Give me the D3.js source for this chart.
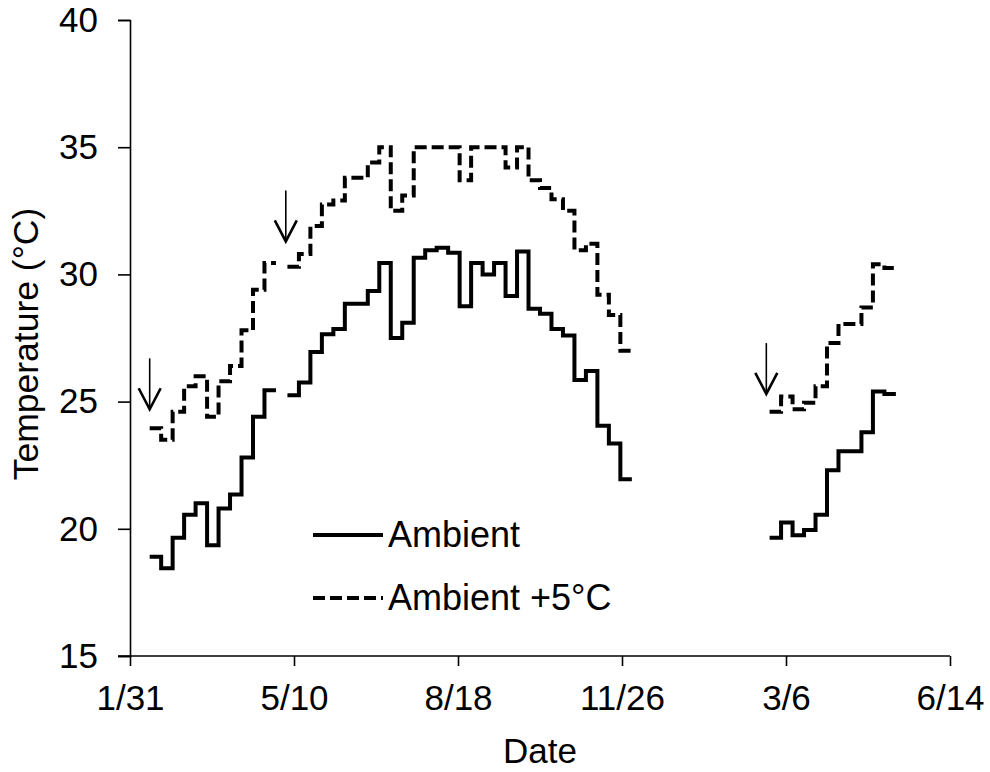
<!DOCTYPE html>
<html>
<head>
<meta charset="utf-8">
<script src="https://cdn.jsdelivr.net/npm/d3@7"></script>
<style>
  html, body { margin: 0; padding: 0; background: #fff; }
  svg { display: block; }
  text { font-family: "Liberation Sans", Arial, sans-serif; fill: #000; }
</style>
</head>
<body>
<svg id="chart" width="990" height="772"></svg>
<script>
// Weekly mean temperatures; each value holds for seven days from its start date.
const stepDays = 7;

const weekStarts = [
  // first season
  "2012-02-12", "2012-02-19", "2012-02-26", "2012-03-04", "2012-03-11", "2012-03-18",
  "2012-03-25", "2012-04-01", "2012-04-08", "2012-04-15", "2012-04-22", "2012-04-29",
  "2012-05-06", "2012-05-13", "2012-05-20", "2012-05-27", "2012-06-03", "2012-06-10",
  "2012-06-17", "2012-06-24", "2012-07-01", "2012-07-08", "2012-07-15", "2012-07-22",
  "2012-07-29", "2012-08-05", "2012-08-12", "2012-08-19", "2012-08-26", "2012-09-02",
  "2012-09-09", "2012-09-16", "2012-09-23", "2012-09-30", "2012-10-07", "2012-10-14",
  "2012-10-21", "2012-10-28", "2012-11-04", "2012-11-11", "2012-11-18", "2012-11-25",
  // second season
  "2013-02-24", "2013-03-03", "2013-03-10", "2013-03-17", "2013-03-24", "2013-03-31",
  "2013-04-07", "2013-04-14", "2013-04-21", "2013-04-28", "2013-05-05"
];

const ambient = [
  18.9, 18.45, 19.65, 20.55, 21.0, 19.35, 20.8, 21.35, 22.8, 24.4, 25.45, null,
  25.25, 25.75, 26.95, 27.65, 27.85, 28.85, 28.85, 29.35, 30.45, 27.5, 28.1, 30.65,
  30.95, 31.05, 30.85, 28.75, 30.45, 30.0, 30.45, 29.15, 30.9, 28.65, 28.45, 27.85,
  27.6, 25.85, 26.2, 24.05, 23.35, 21.95,
  19.65, 20.25, 19.75, 19.95, 20.55, 22.3, 23.05, 23.05, 23.8, 25.4, 25.3
];

const ambientPlus5 = [
  23.95, 23.5, 24.6, 25.6, 26.0, 24.4, 25.8, 26.4, 27.8, 29.4, 30.45, null,
  30.3, 30.8, 31.9, 32.75, 32.9, 33.8, 33.8, 34.4, 35.0, 32.5, 33.1, 35.0,
  35.0, 35.0, 35.0, 33.7, 35.0, 35.0, 35.0, 34.2, 35.0, 33.7, 33.4, 32.95,
  32.5, 30.95, 31.2, 29.2, 28.4, 27.0,
  24.6, 25.2, 24.7, 24.95, 25.6, 27.3, 28.05, 28.05, 28.7, 30.4, 30.25
];

// Date axis: ticks every 100 days
const xDomain = ["2012-01-31", "2013-06-14"];
const xTicks = ["2012-01-31", "2012-05-10", "2012-08-18", "2012-11-26", "2013-03-06", "2013-06-14"];
const yTicks = [15, 20, 25, 30, 35, 40];

// Down arrows marking events (date, arrow tail and tip temperatures)
const arrowDates = ["2012-02-12", "2012-05-05", "2013-02-22"];
const arrowTail = [26.7, 33.3, 27.3];
const arrowTip = [24.7, 31.3, 25.3];

const seriesNames = ["Ambient", "Ambient +5°C"];

const parse = d3.utcParse("%Y-%m-%d");
const fmt = d3.utcFormat("%-m/%-d");

const svg = d3.select("#chart");
svg.append("rect").attr("width", 990).attr("height", 772).attr("fill", "#fff");

const plot = { left: 130, right: 950, top: 20, bottom: 656 };

const x = d3.scaleUtc().domain(xDomain.map(parse)).range([plot.left, plot.right]);
const y = d3.scaleLinear().domain([15, 40]).range([plot.bottom, plot.top]);

// Build step vertices; breaks on missing weeks and between seasons
function stepVertices(values) {
  const pts = [];
  let prevEnd = null;
  weekStarts.forEach((s, i) => {
    const start = parse(s);
    const end = d3.utcDay.offset(start, stepDays);
    const v = values[i];
    if (v == null) { pts.push(null); prevEnd = null; return; }
    if (prevEnd && +prevEnd !== +start) pts.push(null);
    pts.push([start, v], [end, v]);
    prevEnd = end;
  });
  return pts;
}

const line = d3.line()
  .defined(d => d !== null)
  .x(d => x(d[0]))
  .y(d => y(d[1]));

// Axes
const xAxis = d3.axisBottom(x)
  .tickValues(xTicks.map(parse))
  .tickFormat(fmt)
  .tickSize(10)
  .tickPadding(19);

const yAxis = d3.axisLeft(y)
  .tickValues(yTicks)
  .tickSize(12)
  .tickPadding(20);

const gx = svg.append("g")
  .attr("transform", `translate(0,${plot.bottom})`)
  .call(xAxis);

const gy = svg.append("g")
  .attr("transform", `translate(${plot.left},0)`)
  .call(yAxis);

[gx, gy].forEach(g => {
  g.select(".domain").attr("stroke", "#000").attr("stroke-width", 1.6);
  g.selectAll(".tick line").attr("stroke", "#000").attr("stroke-width", 1.6);
  g.selectAll(".tick text")
    .attr("font-size", 35)
    .attr("font-family", "'Liberation Sans', Arial, sans-serif")
    .attr("fill", "#000");
});
// the x domain path starts at the 15 tick end like the other axis
gx.select(".domain").attr("d", `M${plot.left - 12},0H${plot.right}`);
gx.selectAll(".tick line").attr("y1", 0);

// Axis titles
svg.append("text")
  .attr("x", (plot.left + plot.right) / 2)
  .attr("y", 763)
  .attr("text-anchor", "middle")
  .attr("font-size", 35)
  .text("Date");

svg.append("text")
  .attr("transform", `translate(38,344) rotate(-90)`)
  .attr("text-anchor", "middle")
  .attr("font-size", 35.5)
  .text("Temperature (°C)");

// Series lines
const styles = [
  { dash: null },
  { dash: "12,5" }
];

[ambient, ambientPlus5].forEach((vals, k) => {
  svg.append("path")
    .attr("d", line(stepVertices(vals)))
    .attr("fill", "none")
    .attr("stroke", "#000")
    .attr("stroke-width", 4)
    .attr("stroke-linejoin", "miter")
    .attr("stroke-linecap", "butt")
    .attr("stroke-dasharray", styles[k].dash);
});

// Arrows
const arrows = svg.append("g");
arrowDates.forEach((d, i) => {
  const ax = x(parse(d));
  const yTail = y(arrowTail[i]);
  const yTip = y(arrowTip[i]);
  arrows.append("line")
    .attr("x1", ax).attr("x2", ax)
    .attr("y1", yTail).attr("y2", yTip - 1)
    .attr("stroke", "#000").attr("stroke-width", 1.6);
  arrows.append("path")
    .attr("d", `M${ax - 11},${yTip - 21}L${ax},${yTip}L${ax + 11},${yTip - 21}`)
    .attr("fill", "none")
    .attr("stroke", "#000")
    .attr("stroke-width", 2.6)
    .attr("stroke-linejoin", "miter");
});

// Legend
const legend = svg.append("g");
const legendRows = [535, 598];
seriesNames.forEach((name, k) => {
  const ly = legendRows[k];
  legend.append("line")
    .attr("x1", 313).attr("x2", 383)
    .attr("y1", ly).attr("y2", ly)
    .attr("stroke", "#000")
    .attr("stroke-width", 4)
    .attr("stroke-dasharray", styles[k].dash);
  legend.append("text")
    .attr("x", 388)
    .attr("y", ly + 12)
    .attr("font-size", 36)
    .text(name);
});
</script>
</body>
</html>
